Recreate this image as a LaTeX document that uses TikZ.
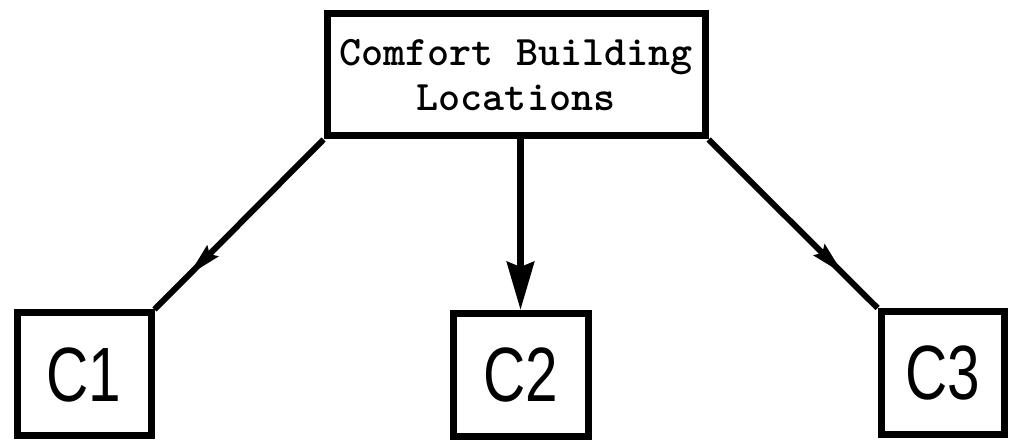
\documentclass[tikz,border=0pt]{standalone}
\usepackage{fontspec}
\usepackage{graphicx}
\usetikzlibrary{arrows.meta,decorations.markings}
\newfontfamily\labelfont{Liberation Sans}
\tikzset{
  topbox/.style={draw=black, fill=white, line width=7pt, rectangle, inner sep=0pt,
    minimum width=378pt, minimum height=122pt, align=center,
    font=\ttfamily\bfseries\fontsize{42}{45}\selectfont},
  cbox/.style={draw=black, fill=white, line width=7pt, rectangle, inner sep=0pt,
    minimum height=123pt, font=\labelfont\fontsize{77}{80}\selectfont},
  midarrow/.style={line width=6pt, draw=black,
    postaction={decorate, decoration={markings,
      mark=at position 0.8 with {\arrow{Stealth[length=34pt,width=15pt,inset=4pt]}}}}},
  downarrow/.style={line width=7pt, draw=black,
    -{Stealth[length=48pt,width=27pt,inset=5pt]}}
}
\newcommand{\narrowtext}[1]{\scalebox{0.76}[1]{#1}}
\begin{document}
\begin{tikzpicture}[x=1pt,y=1pt]
  \path[fill=white] (0,0) rectangle (1011,441);
  \useasboundingbox (0,0) rectangle (1011,441);
  \node[topbox] (top) at (516,366) {Comfort Building\\Locations};
  \node[cbox, minimum width=134pt] (c1) at (84,66.5) {\narrowtext{C1}};
  \node[cbox, minimum width=135pt] (c2) at (520.5,66) {\narrowtext{C2}};
  \node[cbox, minimum width=123pt] (c3) at (942.5,68) {\narrowtext{C3}};
  \draw[midarrow] (top.south west) -- (c1.north east);
  \draw[midarrow] (top.south east) -- (c3.north west);
  \draw[downarrow] (c2.north |- top.south) -- (c2.north);
\end{tikzpicture}
\end{document}
